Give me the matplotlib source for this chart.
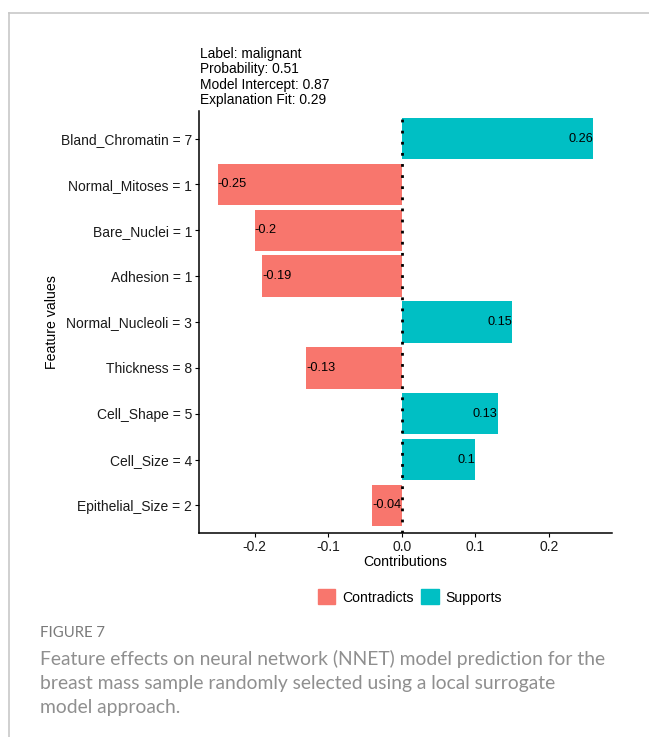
import numpy as np
import matplotlib.pyplot as plt
from matplotlib.lines import Line2D
from matplotlib.patches import Patch

# datos
features = ['Bland_Chromatin = 7', 'Normal_Mitoses = 1', 'Bare_Nuclei = 1',
            'Adhesion = 1', 'Normal_Nucleoli = 3', 'Thickness = 8',
            'Cell_Shape = 5', 'Cell_Size = 4', 'Epithelial_Size = 2']
weights = [0.26, -0.25, -0.2, -0.19, 0.15, -0.13, 0.13, 0.1, -0.04]
labels = ['0.26', '-0.25', '-0.2', '-0.19', '0.15', '-0.13', '0.13', '0.1', '-0.04']
header = ['Label: malignant', 'Probability: 0.51',
          'Model Intercept: 0.87', 'Explanation Fit: 0.29']
xticks = [-0.2, -0.1, 0.0, 0.1, 0.2]

rojo = '#F8766D'
cian = '#00BFC4'
plt.rcParams['font.family'] = ['Liberation Sans', 'DejaVu Sans']

W, H = 649, 737
fig = plt.figure(figsize=(W / 100, H / 100), dpi=100)

# marco gris del articulo
fig.add_artist(Line2D([9 / W, 1], [1 - 13 / H, 1 - 13 / H], color='#c8c8c8', lw=1.2))
fig.add_artist(Line2D([9 / W, 9 / W], [0, 1 - 13 / H], color='#c8c8c8', lw=1.2))

ax = fig.add_axes([199 / W, 1 - 533 / H, (612 - 199) / W, (533 - 111) / H])

n = len(features)
ypos = np.arange(n)[::-1]
colores = [cian if w > 0 else rojo for w in weights]
ax.barh(ypos, weights, height=0.9, color=colores)
ax.axvline(0, color='black', linestyle=(0, (1, 3)), lw=2)

for y, w, t in zip(ypos, weights, labels):
    ax.text(w, y, t, ha='right' if w > 0 else 'left', va='center', fontsize=9.2)

ax.set_xlim(-0.2755, 0.2855)
ax.set_ylim(-0.6, n - 1 + 0.6)
ax.set_yticks(ypos)
ax.set_yticklabels(features, fontsize=10, color='#1a1a1a')
ax.set_xticks(xticks)
ax.set_xticklabels([f'{v:.1f}' for v in xticks], fontsize=10, color='#1a1a1a')
ax.tick_params(length=3, width=0.8, pad=2)
for s in ['top', 'right']:
    ax.spines[s].set_visible(False)
for s in ['left', 'bottom']:
    ax.spines[s].set_linewidth(1.1)

ax.set_xlabel('Contributions', fontsize=10.2, labelpad=1)
ax.set_ylabel('Feature values', fontsize=10.2, labelpad=1)

fig.text(200 / W, 1 - 47 / H, '\n'.join(header), fontsize=9.9, va='top',
         linespacing=1.13)

handles = [Patch(color=rojo, label='Contradicts'), Patch(color=cian, label='Supports')]
fig.legend(handles=handles, loc='center', bbox_to_anchor=(410 / W, 1 - 597 / H),
           ncol=2, frameon=False, fontsize=10.1, handlelength=1.25, handleheight=1.25,
           columnspacing=0.5, handletextpad=0.5)

# pie de figura
fig.text(40 / W, 1 - 633 / H, 'FIGURE 7', fontsize=10.7, color='#7a7a7a',
         family=['Lato', 'DejaVu Sans'], va='center')
caption = ['Feature effects on neural network (NNET) model prediction for the',
           'breast mass sample randomly selected using a local surrogate',
           'model approach.']
for i, linea in enumerate(caption):
    fig.text(40 / W, 1 - (659 + 24.5 * i) / H, linea, fontsize=13.9, color='#8f8f8f',
             family=['Lato', 'DejaVu Sans'], va='center')

fig.savefig('out.png', dpi=100)
